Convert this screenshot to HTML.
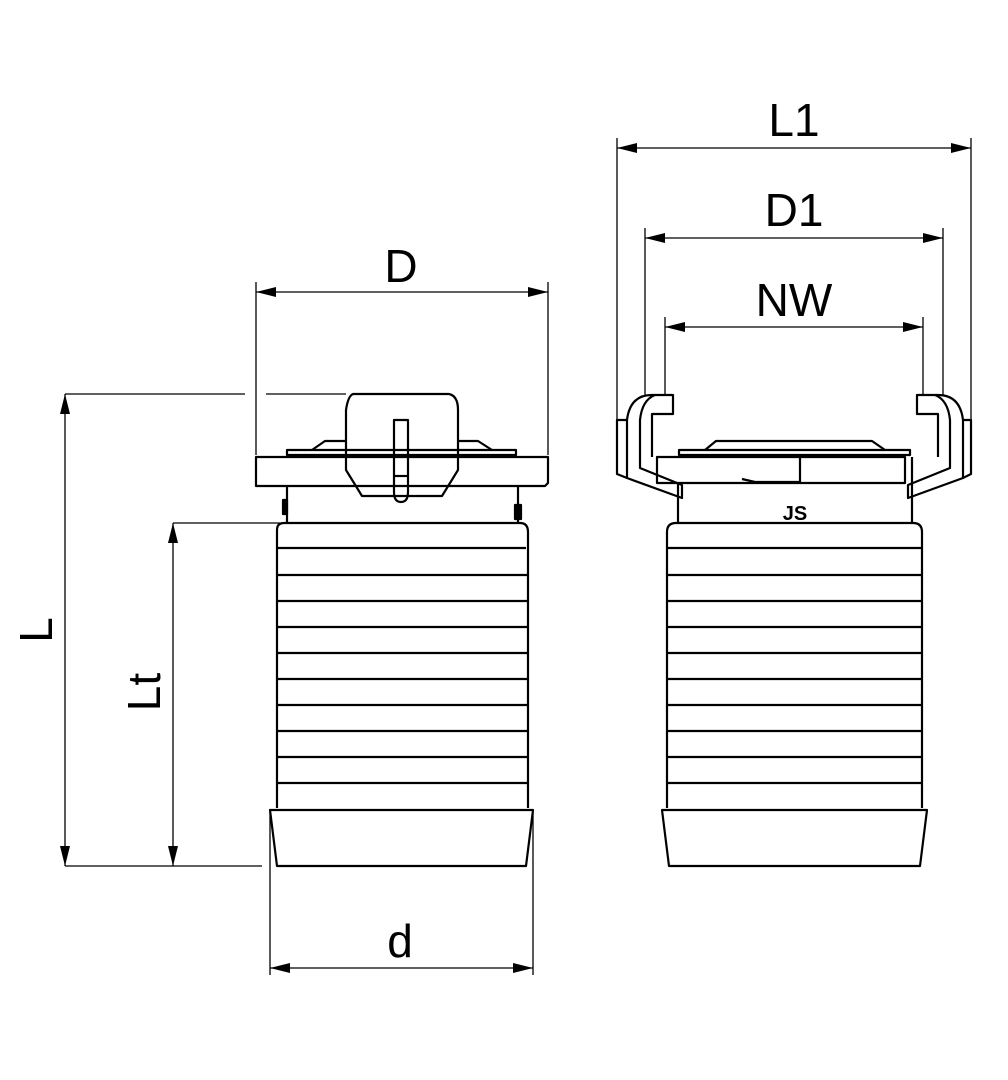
<!DOCTYPE html>
<html><head><meta charset="utf-8"><style>
html,body{margin:0;padding:0;background:#fff}
svg{display:block}
text{font-family:"Liberation Sans",sans-serif;font-size:46px;fill:#000}
</style></head><body>
<svg width="1008" height="1080" viewBox="0 0 1008 1080" xmlns="http://www.w3.org/2000/svg">
<defs>
<marker id="a" viewBox="0 0 20 10" refX="20" refY="5" markerWidth="20" markerHeight="10" markerUnits="userSpaceOnUse" orient="auto-start-reverse"><path d="M0,0 L20,5 L0,10 z" fill="#000"/></marker>
</defs>
<g fill="none" stroke="#000" stroke-width="1.3">
<!-- LEFT dimensions -->
<line x1="256" y1="292" x2="548" y2="292" marker-start="url(#a)" marker-end="url(#a)"/>
<line x1="256" y1="282" x2="256" y2="455"/><line x1="548" y1="282" x2="548" y2="455"/>
<line x1="65" y1="394" x2="65" y2="866" marker-start="url(#a)" marker-end="url(#a)"/>
<line x1="65" y1="394" x2="245" y2="394"/><line x1="266" y1="394" x2="346" y2="394"/>
<line x1="65" y1="866" x2="262" y2="866"/>
<line x1="173" y1="523" x2="173" y2="866" marker-start="url(#a)" marker-end="url(#a)"/>
<line x1="173" y1="523" x2="280" y2="523"/>
<line x1="270" y1="968" x2="533" y2="968" marker-start="url(#a)" marker-end="url(#a)"/>
<line x1="270" y1="812" x2="270" y2="975"/><line x1="533" y1="812" x2="533" y2="975"/>
<!-- RIGHT dimensions -->
<line x1="617" y1="148" x2="971" y2="148" marker-start="url(#a)" marker-end="url(#a)"/>
<line x1="617" y1="138" x2="617" y2="420"/><line x1="971" y1="138" x2="971" y2="420"/>
<line x1="645" y1="238" x2="943" y2="238" marker-start="url(#a)" marker-end="url(#a)"/>
<line x1="645" y1="228" x2="645" y2="395"/><line x1="943" y1="228" x2="943" y2="395"/>
<line x1="665" y1="327" x2="923" y2="327" marker-start="url(#a)" marker-end="url(#a)"/>
<line x1="665" y1="317" x2="665" y2="395"/><line x1="923" y1="317" x2="923" y2="395"/>
</g>
<text x="401" y="282" text-anchor="middle">D</text>
<text x="794" y="136" text-anchor="middle">L1</text>
<text x="794" y="226" text-anchor="middle">D1</text>
<text x="794" y="316" text-anchor="middle">NW</text>
<text x="400" y="957" text-anchor="middle">d</text>
<text transform="translate(52,630) rotate(-90)" text-anchor="middle">L</text>
<text transform="translate(160,692) rotate(-90)" text-anchor="middle">Lt</text>

<g fill="none" stroke="#000" stroke-width="2.2" stroke-linejoin="round">
<!-- LEFT part -->
<path d="M256,457 H548 V483 L545,486 H256 Z"/>
<path d="M287,450 H516 V455 H287 Z"/>
<path d="M312,450 L325,441 H346 M458,441 H478 L492,450"/>
<line x1="287" y1="486" x2="287" y2="523"/><line x1="518" y1="486" x2="518" y2="523"/>
<rect x="283" y="500" width="4" height="14" fill="#000"/><rect x="515" y="505" width="6" height="14" fill="#000"/>
<path d="M353,394 H449 Q458,396 458,410 V470 L442,496 H362 L346,470 V410 Q348,396 353,394 Z"/>
<path d="M394,420 H408 V492 Q408,502 401,502 Q394,502 394,492 Z"/>
<line x1="394" y1="476" x2="408" y2="476"/>
<path d="M277,808 V530 Q277,523 284,523 H520 Q528,523 528,532 V808"/>
<path d="M277,548 H526 M276,575 H527 M276,601 H527 M276,627 H527 M276,653 H527 M276,679 H527 M276,705 H527 M276,731 H527 M276,757 H527 M276,783 H527"/>
<path d="M270,810 H533 L526,866 H277 Z"/>
<!-- RIGHT part -->
<path d="M657,457 H905 V483 H657 Z"/>
<path d="M679,450 H910 V455 H679 Z"/>
<path d="M705,450 L716,441 H872 L885,450"/>
<path d="M800,457 V482 H755 L742,479"/>
<path d="M678,483 V523 M912,457 V523"/>
<path d="M667,808 V532 Q667,523 676,523 H913 Q922,523 922,532 V808"/>
<path d="M667,548 H921 M667,575 H921 M667,601 H921 M667,627 H921 M667,653 H921 M667,679 H921 M667,705 H921 M667,731 H921 M667,757 H921 M667,783 H921"/>
<path d="M662,810 H927 L920,866 H669 Z"/>
<!-- left claw -->
<path d="M652,457 V414 H673 V395 H652 Q630,395 627,420 V478 L682,498 V485 L640,468 V420 Q642,400 655,395"/>
<path d="M627,420 H617 V474 L627,478"/>
<!-- right claw -->
<path d="M938,457 V414 H917 V395 H938 Q960,395 963,420 V478 L908,498 V485 L950,468 V420 Q948,400 935,395"/>
<path d="M963,420 H971 V474 L963,478"/>
</g>
<text x="795" y="520" text-anchor="middle" style="font-size:20px;font-weight:bold">JS</text>
</svg>
</body></html>
